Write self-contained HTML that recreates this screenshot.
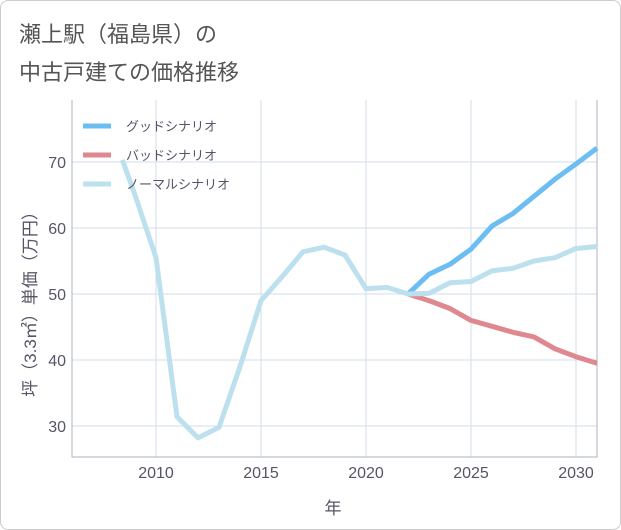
<!DOCTYPE html>
<html><head><meta charset="utf-8"><style>
body{margin:0;background:#fff;}
#wrap{position:relative;width:619px;height:528px;border:1px solid #ccc;border-radius:8px;overflow:hidden;background:#fff;font-family:"Liberation Sans","Noto Sans CJK JP",sans-serif;}
.t{position:absolute;left:18px;font-size:22px;color:#555;}
</style></head><body>
<div id="wrap">
<div class="t" style="top:16px">瀬上駅（福島県）の</div>
<div class="t" style="top:54px">中古戸建ての価格推移</div>
<svg id="svg" width="621" height="530" style="position:absolute;left:-1px;top:-1px"></svg>
</div>
<script>
const years=[2008.4,2009,2010,2011,2012,2013,2014,2015,2016,2017,2018,2019,2020,2021,2022];
const normalHist=[70.3,65,55.5,31.4,28.2,29.8,39,49,52.6,56.4,57.1,55.9,50.8,51,50];
const futureYears=[2022,2023,2024,2025,2026,2027,2028,2029,2030,2031];
const good=[50,53,54.5,56.8,60.3,62.2,64.8,67.4,69.7,72.1];
const bad=[50,49,47.8,46,45.1,44.2,43.5,41.7,40.5,39.5];
const normal=[50,50.1,51.7,51.9,53.5,53.9,55,55.5,56.9,57.2];
const xTicks=[2010,2015,2020,2025,2030];
const yTicks=[30,40,50,60,70];
const L=72,R=597,T=100,B=457;
const xs=v=>156+(v-2010)*21;
const ys=v=>162+(70-v)*6.6;
const svg=document.getElementById('svg');
const NS='http://www.w3.org/2000/svg';
function mk(t,a){const e=document.createElementNS(NS,t);for(const k in a)e.setAttribute(k,a[k]);svg.appendChild(e);return e;}
xTicks.forEach(v=>{const l=mk('line',{x1:xs(v),x2:xs(v),y1:T,y2:B,stroke:'#d3dde8','stroke-width':1});


const t=mk('text',{x:xs(v),y:478,'text-anchor':'middle','font-size':16,fill:'#556'});t.textContent=v;

});
yTicks.forEach(v=>{const l=mk('line',{x1:L,x2:R,y1:ys(v),y2:ys(v),stroke:'#d3dde8','stroke-width':1});


const t=mk('text',{x:66,y:ys(v)+6,'text-anchor':'end','font-size':16,fill:'#556'});t.textContent=v;

});
const ax=mk('path',{d:`M${L},${T}V${B}H${R}V${T}`,fill:'none',stroke:'#aab4c0','stroke-width':1});


function line(xa,ya,c,name){const p=mk('polyline',{points:xa.map((x,i)=>xs(x)+','+ys(ya[i])).join(' '),fill:'none',stroke:c,'stroke-width':5,'stroke-linejoin':'round'});

}
line(futureYears,bad,'#e0888f','bad-scenario-line');
line(futureYears,good,'#6cbef2','good-scenario-line');
line(years.concat(futureYears.slice(1)),normalHist.concat(normal.slice(1)),'#bde0ef','normal-scenario-line');
const leg=[['グッドシナリオ','#6cbef2'],['バッドシナリオ','#e0888f'],['ノーマルシナリオ','#bde0ef']];
leg.forEach((d,i)=>{const y=126+i*29;
const l=mk('line',{x1:83,x2:111,y1:y,y2:y,stroke:d[1],'stroke-width':5});


const t=mk('text',{x:126,y:y+5,'font-size':13,fill:'#556'});t.textContent=d[0];

});
const yt=mk('text',{x:0,y:0,'font-size':17,fill:'#556','text-anchor':'middle',transform:'translate(36,300) rotate(-90)'});yt.textContent='坪（3.3㎡）単価（万円）';


const xt=mk('text',{x:333,y:514,'font-size':17,fill:'#556','text-anchor':'middle'});xt.textContent='年';


</script>
</body></html>
